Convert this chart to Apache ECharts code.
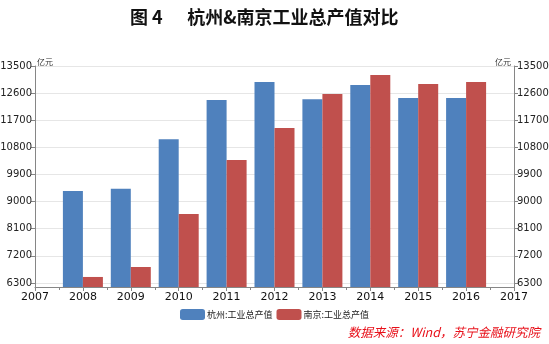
<!DOCTYPE html>
<html><head><meta charset="utf-8">
<script src="https://cdn.jsdelivr.net/npm/echarts@6/dist/echarts.min.js"></script>
<style>html,body{margin:0;padding:0;background:#fff}#c{width:549px;height:344px}</style>
</head><body><div id="c"></div>
<script>
const years = [2008, 2009, 2010, 2011, 2012, 2013, 2014, 2015, 2016];
const hangzhou = [9350, 9430, 11070, 12370, 12970, 12400, 12870, 12440, 12440];
const nanjing = [6500, 6830, 8590, 10380, 11440, 12570, 13200, 12900, 12970];
const yTicks = [6300, 7200, 8100, 9000, 9900, 10800, 11700, 12600, 13500];
const names = ['杭州:工业总产值', '南京:工业总产值'];

const chart = echarts.init(document.getElementById('c'));
const font = '"Noto Sans CJK SC", "DejaVu Sans", sans-serif';
function yAxis(pos) {
  return {
    type: 'value', position: pos, min: 6167, max: 13500,
    axisLine: { show: true, lineStyle: { color: '#868686' } },
    axisTick: { show: true, customValues: yTicks, length: 4, lineStyle: { color: '#868686' } },
    axisLabel: { customValues: yTicks, fontSize: 10, color: '#222', fontFamily: 'Verdana, "DejaVu Sans"', margin: 3,
      formatter: v => String(v) },
    splitLine: { show: pos === 'left', lineStyle: { color: '#e6e6e6' } }
  };
}
chart.setOption({
  animation: false,
  title: { text: '图 4      杭州&南京工业总产值对比', left: 125, top: 3,
    textStyle: { fontSize: 18, fontWeight: 'bold', color: '#111', fontFamily: font } },
  grid: { left: 35, right: 35, top: 66, bottom: 57, containLabel: false, outerBoundsMode: 'none' },
  legend: { bottom: 19, left: 'center', itemWidth: 25, itemHeight: 11, itemGap: 4,
    textStyle: { fontSize: 9, color: '#222', fontFamily: font, padding: [0, 0, 0, -3] }, data: names },
  xAxis: { type: 'value', min: 2007, max: 2017, interval: 1,
    axisLine: { show: true, lineStyle: { color: '#868686' } },
    axisTick: { show: true, length: 4, lineStyle: { color: '#868686' } },
    minorTick: { show: true, splitNumber: 2, length: 3, lineStyle: { color: '#868686' } },
    splitLine: { show: false },
    axisLabel: { fontSize: 11, color: '#111', fontFamily: 'Verdana, "DejaVu Sans"', margin: 5,
      formatter: v => String(v) } },
  yAxis: [yAxis('left'), yAxis('right')],
  graphic: [
    { type: 'text', left: 37, top: 58, style: { text: '亿元', fontSize: 8, fill: '#333', fontFamily: font } },
    { type: 'text', left: 495, top: 58, style: { text: '亿元', fontSize: 8, fill: '#333', fontFamily: font } },
    { type: 'text', right: 9, top: 326, style: { text: '数据来源：Wind，苏宁金融研究院', fontSize: 12.5,
      fill: '#e8101a', fontStyle: 'italic', fontFamily: font } }
  ],
  series: [
    { name: names[0], type: 'bar', barWidth: 20, barGap: '0%', itemStyle: { color: '#4f81bd' },
      data: years.map((y, i) => [y, hangzhou[i]]) },
    { name: names[1], type: 'bar', barWidth: 20, barGap: '0%', itemStyle: { color: '#c0504d' },
      data: years.map((y, i) => [y, nanjing[i]]) }
  ]
});
</script></body></html>
